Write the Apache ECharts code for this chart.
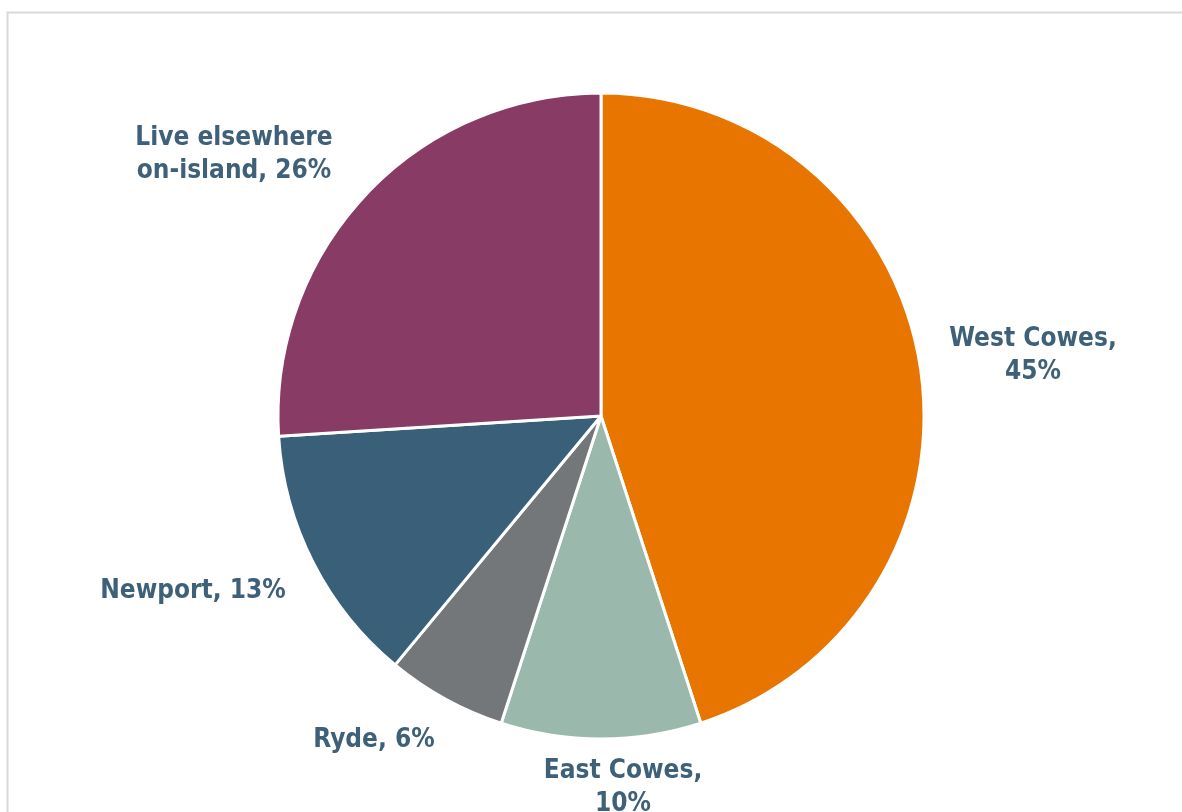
<!DOCTYPE html>
<html>
<head>
<meta charset="utf-8">
<script src="https://cdn.jsdelivr.net/npm/echarts@6/dist/echarts.min.js"></script>
<style>
  html, body { margin: 0; padding: 0; background: #ffffff; }
  #chart { width: 1182px; height: 812px; }
</style>
</head>
<body>
<div id="chart"></div>
<script>
// Where people live (share of respondents, %)
const categories = ['West Cowes', 'East Cowes', 'Ryde', 'Newport', 'Live elsewhere on-island'];
const shares = [45, 10, 6, 13, 26];
// How each callout wraps its category name
const labelLines = [
  ['West Cowes,', '{p}'],
  ['East Cowes,', '{p}'],
  ['Ryde, {p}'],
  ['Newport, {p}'],
  ['Live elsewhere', 'on-island, {p}']
];

const sliceColors = ['#E87500', '#9BB8AC', '#737779', '#3A6079', '#873B65'];
const labelColor = '#3E6079';
const fontFamily = '"DejaVu Sans Condensed", "DejaVu Sans", Verdana, sans-serif';

// Pie geometry and callout placement (offsets from the pie centre, px)
const pieCenter = [601, 416];
const pieRadius = 323;
const calloutOffsets = [
  [432, -60],
  [22, 372],
  [-227, 324],
  [-408, 175],
  [-367, -261]
];

const data = categories.map((c, i) => ({
  name: c,
  value: shares[i],
  itemStyle: { color: sliceColors[i] }
}));

const chart = echarts.init(document.getElementById('chart'), null, { renderer: 'canvas' });
chart.setOption({
  backgroundColor: '#ffffff',
  animation: false,
  graphic: [{
    type: 'rect',
    shape: { x: 7.5, y: 12.5, width: 1200, height: 820 },
    style: { fill: 'none', stroke: '#D9D9D9', lineWidth: 2 },
    silent: true,
    z: -1
  }],
  series: [{
    type: 'pie',
    center: pieCenter,
    radius: [0, pieRadius],
    startAngle: 90,
    clockwise: true,
    percentPrecision: 0,
    data: data,
    itemStyle: { borderColor: '#ffffff', borderWidth: 3 },
    label: {
      show: true,
      position: 'outside',
      formatter: function (p) {
        const pct = Math.round(p.percent) + '%';
        return labelLines[p.dataIndex]
          .map(l => '{t|' + l.replace('{p}', pct) + '}')
          .join('\n');
      },
      rich: {
        t: {
          fontFamily: fontFamily,
          fontWeight: 'bold',
          fontSize: 26,
          lineHeight: 33,
          color: labelColor,
          align: 'center'
        }
      }
    },
    labelLine: { show: false },
    labelLayout: function (params) {
      const o = calloutOffsets[params.dataIndex];
      return {
        x: pieCenter[0] + o[0],
        y: pieCenter[1] + o[1],
        align: 'center',
        verticalAlign: 'middle'
      };
    },
    emphasis: { disabled: true }
  }]
});
</script>
</body>
</html>
